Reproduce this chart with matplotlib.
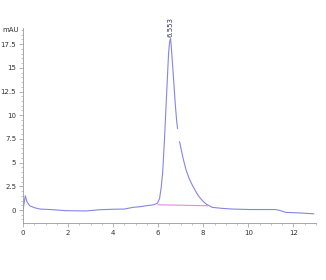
import numpy as np
import matplotlib
matplotlib.use("Agg")
import matplotlib.pyplot as plt
from matplotlib.ticker import MultipleLocator

# chromatogram trace, split where the trace is broken
t1 = [0.0, 0.04, 0.1, 0.18, 0.3, 0.5, 0.75, 1.2, 1.9, 2.8, 3.4, 4.0, 4.5, 4.88,
      5.2, 5.47, 5.8, 5.96, 6.06, 6.13, 6.2, 6.28, 6.34, 6.4, 6.46, 6.5, 6.55,
      6.6, 6.65, 6.7, 6.76, 6.82, 6.86]
y1 = [0.0, 0.6, 1.5, 0.85, 0.45, 0.25, 0.1, 0.05, -0.07, -0.1, 0.03, 0.08, 0.1, 0.28,
      0.35, 0.45, 0.55, 0.7, 1.2, 2.3, 4.0, 7.5, 10.5, 13.5, 16.5, 17.6, 18.1,
      16.6, 14.9, 13.2, 11.1, 9.4, 8.6]
t2 = [6.95, 7.1, 7.24, 7.38, 7.52, 7.68, 7.83, 8.0, 8.13, 8.4, 8.8, 9.3, 10.05,
      10.6, 11.2, 11.4, 11.66, 12.2, 12.9]
y2 = [7.2, 5.5, 4.2, 3.3, 2.6, 1.9, 1.35, 0.9, 0.63, 0.28, 0.18, 0.1, 0.05,
      0.05, 0.05, -0.05, -0.25, -0.3, -0.4]

# integration baseline
base_t = [6.0, 8.2]
base_y = [0.55, 0.45]

peak_rt = 6.553
peak_h = 18.1

fig = plt.figure(figsize=(3.26, 2.8), dpi=100)
ax = fig.add_axes([0.0706, 0.2036, 0.8984, 0.6964])

ax.plot(t1, y1, color="#8585e6", lw=0.8)
ax.plot(t2, y2, color="#8585e6", lw=0.8)
ax.plot(base_t, base_y, color="#e68ae6", lw=0.8)

ax.text(peak_rt, peak_h + 0.1, "6.553", rotation=90, ha="center", va="bottom",
        fontsize=5, color="#333355")

ax.set_xlim(0, 13)
ax.set_ylim(-1.37, 19.2)
ax.xaxis.set_major_locator(MultipleLocator(2))
ax.xaxis.set_minor_locator(MultipleLocator(0.5))
ax.yaxis.set_minor_locator(MultipleLocator(0.5))
ax.set_yticks([0, 2.5, 5, 7.5, 10, 12.5, 15, 17.5])
ax.set_yticklabels(["0", "2.5", "5", "7.5", "10", "12.5", "15", "17.5"])

for s in ["top", "right"]:
    ax.spines[s].set_visible(False)
for s in ["left", "bottom"]:
    ax.spines[s].set_color("#999999")
    ax.spines[s].set_linewidth(0.6)
ax.tick_params(which="major", length=3, width=0.5, color="#999999",
               labelsize=5, labelcolor="#333333", pad=2)
ax.tick_params(which="minor", length=1.5, width=0.4, color="#999999")

fig.text(0.0706 - 0.012, 0.893, "mAU", ha="right", va="center", fontsize=5,
         color="#333333")

plt.savefig("out.png", dpi=100)
